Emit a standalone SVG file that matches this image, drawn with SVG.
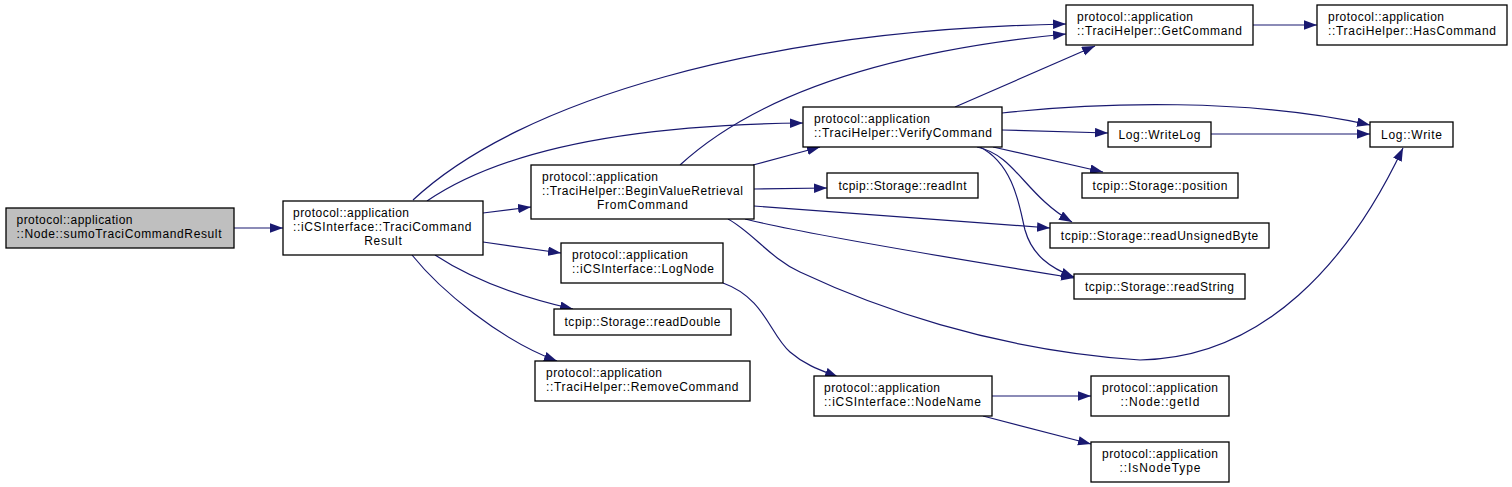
<svg xmlns="http://www.w3.org/2000/svg" width="1512" height="487" viewBox="0 0 1512 487">
<style>
rect{fill:#ffffff;stroke:#000000;stroke-width:1.3}
#n_sumo rect{fill:#bfbfbf}
text{font-family:"Liberation Sans",Arial,Helvetica,sans-serif;font-size:12px;fill:#000000}
.c{text-anchor:middle}
#edges path{fill:none;stroke:#191970;stroke-width:1.2;marker-end:url(#ah)}
</style>
<defs>
<marker id="ah" markerWidth="14" markerHeight="10" refX="13" refY="4.75" orient="auto" markerUnits="userSpaceOnUse">
<path d="M0,0 L13,4.75 L0,9.5 z" fill="#191970" stroke="none"/>
</marker>
</defs>
<rect x="0" y="0" width="1512" height="487" style="fill:#ffffff;stroke:none"/>
<g id="edges">
<path d="M234,228 L283,228"/>
<path d="M413,200 C520,100 760,30 1066,24"/>
<path d="M427,201 C490,158 600,125 803,123"/>
<path d="M483,213 L531,207"/>
<path d="M483,242 L561,253"/>
<path d="M435,255 C470,278 520,297 573,309"/>
<path d="M412,255 C440,290 500,340 557,361"/>
<path d="M680,165 C740,110 850,55 1066,34"/>
<path d="M753,165 L820,147"/>
<path d="M754,189 L827,188"/>
<path d="M754,206 L1050,228"/>
<path d="M745,219 C800,233 950,258 1074,278"/>
<path d="M728,219 C752,232 770,258 800,272 C870,305 990,350 1140,360 C1265,358 1350,260 1403,148"/>
<path d="M955,107 L1095,46"/>
<path d="M1002,113 C1100,102 1250,98 1370,125"/>
<path d="M1002,130 L1108,133"/>
<path d="M993,147 L1103,172"/>
<path d="M977,147 C1015,155 1025,195 1072,222"/>
<path d="M980,147 C1015,165 1020,210 1025,230 C1032,255 1050,268 1074,277"/>
<path d="M1211,134 L1370,134"/>
<path d="M1253,25 L1317,25"/>
<path d="M723,283 C765,298 770,335 790,352 C805,365 820,370 838,377"/>
<path d="M992,396 L1091,396"/>
<path d="M983,416 L1091,444"/>
</g>
<g id="n_sumo">
<rect x="6" y="208" width="228" height="40"/>
<text x="16.5" y="224" textLength="116" lengthAdjust="spacing">protocol::application</text>
<text x="16.5" y="238" textLength="205" lengthAdjust="spacing">::Node::sumoTraciCommandResult</text>
</g>
<g id="n_tcr">
<rect x="283" y="201" width="200" height="54"/>
<text x="293" y="217" textLength="116" lengthAdjust="spacing">protocol::application</text>
<text x="293" y="231" textLength="178.5" lengthAdjust="spacing">::iCSInterface::TraciCommand</text>
<text class="c" x="383" y="245" textLength="37.5" lengthAdjust="spacing">Result</text>
</g>
<g id="n_bvr">
<rect x="531" y="165" width="223" height="54"/>
<text x="542" y="181" textLength="116" lengthAdjust="spacing">protocol::application</text>
<text x="542" y="195" textLength="201" lengthAdjust="spacing">::TraciHelper::BeginValueRetrieval</text>
<text class="c" x="642.5" y="209" textLength="91" lengthAdjust="spacing">FromCommand</text>
</g>
<g id="n_verify">
<rect x="803" y="107" width="199" height="40"/>
<text x="814" y="123" textLength="116" lengthAdjust="spacing">protocol::application</text>
<text x="814" y="137" textLength="178" lengthAdjust="spacing">::TraciHelper::VerifyCommand</text>
</g>
<g id="n_readint">
<rect x="827" y="173" width="151" height="25"/>
<text class="c" x="902.5" y="189.5" textLength="128" lengthAdjust="spacing">tcpip::Storage::readInt</text>
</g>
<g id="n_getcmd">
<rect x="1066" y="5" width="187" height="40"/>
<text x="1077" y="21" textLength="116" lengthAdjust="spacing">protocol::application</text>
<text x="1077" y="35" textLength="165" lengthAdjust="spacing">::TraciHelper::GetCommand</text>
</g>
<g id="n_hascmd">
<rect x="1317" y="5" width="190" height="40"/>
<text x="1328" y="21" textLength="116" lengthAdjust="spacing">protocol::application</text>
<text x="1328" y="35" textLength="168" lengthAdjust="spacing">::TraciHelper::HasCommand</text>
</g>
<g id="n_write">
<rect x="1370" y="122" width="83" height="25"/>
<text class="c" x="1411.5" y="138.5" textLength="61" lengthAdjust="spacing">Log::Write</text>
</g>
<g id="n_writelog">
<rect x="1108" y="122" width="103" height="25"/>
<text class="c" x="1159.5" y="138.5" textLength="82" lengthAdjust="spacing">Log::WriteLog</text>
</g>
<g id="n_position">
<rect x="1082" y="173" width="156" height="25"/>
<text class="c" x="1160" y="189.5" textLength="135" lengthAdjust="spacing">tcpip::Storage::position</text>
</g>
<g id="n_readubyte">
<rect x="1050" y="223" width="219" height="25"/>
<text class="c" x="1159.5" y="239.5" textLength="197.5" lengthAdjust="spacing">tcpip::Storage::readUnsignedByte</text>
</g>
<g id="n_readstring">
<rect x="1074" y="274" width="171" height="25"/>
<text class="c" x="1159.5" y="290.5" textLength="149" lengthAdjust="spacing">tcpip::Storage::readString</text>
</g>
<g id="n_lognode">
<rect x="561" y="243" width="162" height="40"/>
<text x="572" y="259" textLength="116" lengthAdjust="spacing">protocol::application</text>
<text x="572" y="273" textLength="142" lengthAdjust="spacing">::iCSInterface::LogNode</text>
</g>
<g id="n_readdouble">
<rect x="554" y="309" width="177" height="26"/>
<text class="c" x="642.5" y="325.5" textLength="156" lengthAdjust="spacing">tcpip::Storage::readDouble</text>
</g>
<g id="n_removecmd">
<rect x="535" y="361" width="215" height="40"/>
<text x="546" y="377" textLength="116" lengthAdjust="spacing">protocol::application</text>
<text x="546" y="391" textLength="192.5" lengthAdjust="spacing">::TraciHelper::RemoveCommand</text>
</g>
<g id="n_nodename">
<rect x="814" y="376" width="178" height="40"/>
<text x="824" y="392" textLength="116" lengthAdjust="spacing">protocol::application</text>
<text x="824" y="406" textLength="157" lengthAdjust="spacing">::iCSInterface::NodeName</text>
</g>
<g id="n_getid">
<rect x="1091" y="376" width="138" height="40"/>
<text class="c" x="1160" y="392" textLength="116" lengthAdjust="spacing">protocol::application</text>
<text class="c" x="1160" y="406" textLength="79" lengthAdjust="spacing">::Node::getId</text>
</g>
<g id="n_isnodetype">
<rect x="1091" y="442" width="138" height="40"/>
<text class="c" x="1160" y="458" textLength="116" lengthAdjust="spacing">protocol::application</text>
<text class="c" x="1160" y="472" textLength="81" lengthAdjust="spacing">::IsNodeType</text>
</g>
</svg>
